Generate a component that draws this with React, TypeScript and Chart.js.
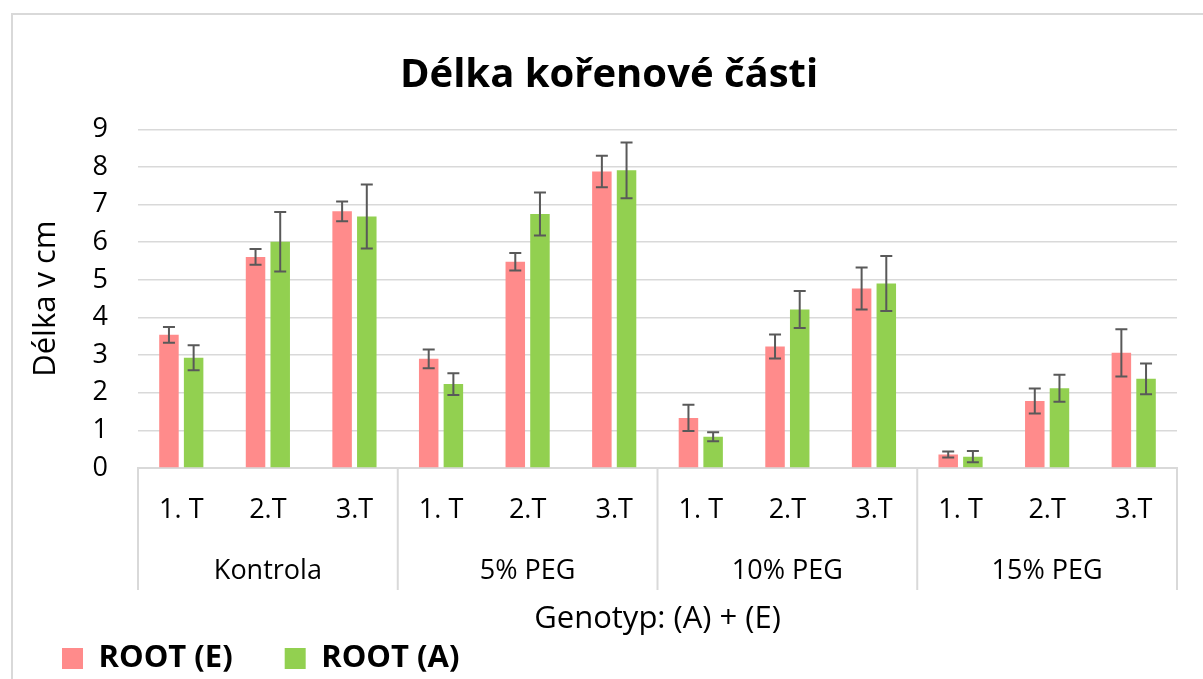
import React, { useEffect, useRef } from 'react';
import { Chart, registerables } from 'chart.js';

Chart.register(...registerables);

// ---- data ----
const categories = ['1. T', '2.T', '3.T', '1. T', '2.T', '3.T', '1. T', '2.T', '3.T', '1. T', '2.T', '3.T'];
const groups = ['Kontrola', '5% PEG', '10% PEG', '15% PEG'];
const seriesNames = ['ROOT (E)', 'ROOT (A)'];
const rootE = [3.54, 5.61, 6.82, 2.9, 5.48, 7.88, 1.33, 3.23, 4.77, 0.36, 1.78, 3.06];
const rootEErr = [0.21, 0.21, 0.26, 0.25, 0.23, 0.42, 0.35, 0.32, 0.56, 0.08, 0.33, 0.63];
const rootA = [2.93, 6.01, 6.68, 2.23, 6.75, 7.91, 0.83, 4.21, 4.9, 0.3, 2.12, 2.37];
const rootAErr = [0.33, 0.79, 0.85, 0.29, 0.57, 0.74, 0.12, 0.49, 0.73, 0.15, 0.36, 0.41];
const yMin = 0;
const yMax = 9;
const yStep = 1;
const chartTitle = 'Délka kořenové části';
const yTitle = 'Délka v cm';
const xTitle = 'Genotyp: (A) + (E)';

const FONT = "'Open Sans', sans-serif";
const GRID = '#d9d9d9';
const TEXT = '#000000';
const errorSets = [rootEErr, rootAErr];

const errorBarPlugin = {
  id: 'errorBars',
  afterDatasetsDraw(chart: any) {
    const ctx = chart.ctx;
    const ys = chart.scales.y;
    ctx.save();
    ctx.strokeStyle = '#595959';
    ctx.lineWidth = 2;
    chart.data.datasets.forEach((ds: any, di: number) => {
      const meta = chart.getDatasetMeta(di);
      const errs = errorSets[di];
      meta.data.forEach((bar: any, i: number) => {
        const v = ds.data[i];
        const e = errs[i];
        const x = bar.x;
        const yt = ys.getPixelForValue(v + e);
        const yb = ys.getPixelForValue(Math.max(0, v - e));
        ctx.beginPath();
        ctx.moveTo(x, yt);
        ctx.lineTo(x, yb);
        ctx.moveTo(x - 6, yt);
        ctx.lineTo(x + 6, yt);
        ctx.moveTo(x - 6, yb);
        ctx.lineTo(x + 6, yb);
        ctx.stroke();
      });
    });
    ctx.restore();
  },
};

const groupLinesPlugin = {
  id: 'groupLines',
  afterDraw(chart: any) {
    const ctx = chart.ctx;
    const xs = chart.scales.x;
    const x2 = chart.scales.x2;
    const n = groups.length;
    const w = (xs.right - xs.left) / n;
    ctx.save();
    ctx.strokeStyle = GRID;
    ctx.lineWidth = 2;
    for (let k = 0; k <= n; k++) {
      const x = xs.left + k * w;
      ctx.beginPath();
      ctx.moveTo(x, xs.top);
      ctx.lineTo(x, x2.bottom - 1);
      ctx.stroke();
    }
    ctx.restore();
  },
};

export default function App() {
  const ref = useRef<HTMLCanvasElement>(null);
  useEffect(() => {
    const canvas = ref.current;
    if (!canvas) return;
    Chart.defaults.font.family = FONT;
    const chart = new Chart(canvas, {
      type: 'bar',
      data: {
        labels: categories,
        datasets: [
          {
            label: seriesNames[0],
            data: rootE,
            backgroundColor: '#FF8B8B',
            borderWidth: 0,
            categoryPercentage: 0.57,
            barPercentage: 0.79,
            xAxisID: 'x',
            yAxisID: 'y',
          },
          {
            label: seriesNames[1],
            data: rootA,
            backgroundColor: '#92D050',
            borderWidth: 0,
            categoryPercentage: 0.57,
            barPercentage: 0.79,
            xAxisID: 'x',
            yAxisID: 'y',
          },
        ],
      },
      options: {
        responsive: false,
        devicePixelRatio: 1,
        animation: false,
        layout: { padding: { left: 10, right: 0, top: 0, bottom: 0 } },
        plugins: {
          tooltip: { enabled: false },
          title: {
            display: true,
            text: chartTitle,
            color: TEXT,
            font: { family: FONT, size: 40, weight: 'bold' },
            padding: { top: 51.3, bottom: 30 },
          },
          legend: {
            display: true,
            position: 'bottom',
            align: 'start',
            maxHeight: 88,
            labels: {
              color: TEXT,
              font: { family: FONT, size: 31, weight: 'bold' },
              boxWidth: 21,
              boxHeight: 21,
              padding: 52,
            },
          },
        },
        scales: {
          x: {
            type: 'category',
            position: 'bottom',
            offset: true,
            weight: 0,
            grid: { display: false, drawTicks: false },
            border: { display: true, color: GRID, width: 2 },
            ticks: {
              color: TEXT,
              font: { family: FONT, size: 27 },
              padding: 26,
              autoSkip: false,
              maxRotation: 0,
            },
          },
          x2: {
            type: 'category',
            position: 'bottom',
            labels: groups,
            offset: true,
            weight: 1,
            grid: { display: false, drawTicks: false },
            border: { display: false },
            ticks: {
              color: TEXT,
              font: { family: FONT, size: 27 },
              padding: 2.4,
              autoSkip: false,
              maxRotation: 0,
            },
            title: {
              display: true,
              text: xTitle,
              color: TEXT,
              font: { family: FONT, size: 31 },
              padding: { top: 10.8, bottom: -46.6 },
            },
          },
          y: {
            type: 'linear',
            position: 'left',
            min: yMin,
            max: yMax,
            grid: { color: GRID, lineWidth: 1.5, drawTicks: false },
            border: { display: false },
            ticks: {
              stepSize: yStep,
              color: TEXT,
              font: { family: FONT, size: 27 },
              padding: 30,
            },
            title: {
              display: true,
              text: yTitle,
              color: TEXT,
              font: { family: FONT, size: 31 },
              padding: { top: 18, bottom: 0 },
            },
            afterFit: (s: any) => {
              s.width = 128;
            },
          },
          yR: {
            type: 'linear',
            position: 'right',
            display: true,
            grid: { display: false, drawTicks: false },
            border: { display: false },
            ticks: { display: false },
            afterFit: (s: any) => {
              s.width = 31;
            },
          },
        },
      } as any,
      plugins: [errorBarPlugin, groupLinesPlugin],
    });
    const fonts: any = (document as any).fonts;
    if (fonts && fonts.ready) {
      fonts.ready.then(() => {
        try { chart.update(); } catch (e) { /* ignore */ }
      });
    }
    return () => chart.destroy();
  }, []);

  return (
    <div
      style={{
        position: 'fixed',
        left: 0,
        top: 0,
        width: 1203,
        height: 679,
        overflow: 'hidden',
        background: '#ffffff',
      }}
    >
      <div
        style={{
          position: 'absolute',
          left: 11,
          top: 13,
          width: 1400,
          height: 900,
          border: `2px solid ${GRID}`,
          boxSizing: 'border-box',
        }}
      />
      <canvas
        ref={ref}
        width={1208}
        height={679}
        style={{ position: 'absolute', left: 0, top: 0, width: 1208, height: 679 }}
      />
    </div>
  );
}
